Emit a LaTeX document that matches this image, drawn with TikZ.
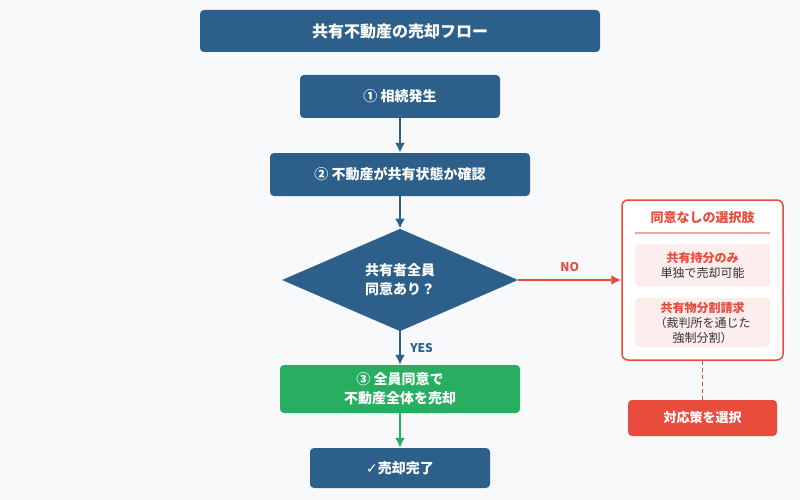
\documentclass[tikz,border=0pt]{standalone}
\usepackage{fontspec}
\setmainfont{Noto Sans CJK JP}
\newfontfamily\symfont{DejaVu Sans}
\usetikzlibrary{shapes.geometric,arrows.meta}
\definecolor{navy}{HTML}{2C5F8A}
\definecolor{okgreen}{HTML}{27AE60}
\definecolor{alert}{HTML}{E74C3C}
\definecolor{pinkbg}{HTML}{FDEDEC}
\definecolor{bgcol}{HTML}{F8F9FB}
\definecolor{txt}{HTML}{333333}
\tikzset{
  stage/.style={draw=none, fill=navy, rounded corners=4pt, text=white, font=\fontsize{14}{19}\selectfont\bfseries, align=center},
  flow/.style={-{Latex[length=10pt,width=10pt]}, line width=2pt, navy},
  opt/.style={fill=pinkbg, rounded corners=4pt, minimum width=135pt, align=center, font=\fontsize{12}{15}\selectfont, text=txt}
}
\begin{document}
\begin{tikzpicture}[x=1pt,y=-1pt]
    \fill[bgcol] (0,0) rectangle (800,500);
    \useasboundingbox (0,0) rectangle (800,500);

    \node[stage, minimum width=400pt, minimum height=42pt, font=\fontsize{16}{19}\selectfont\bfseries] (title) at (400, 31) {共有不動産の売却フロー};
    \node[stage, minimum width=200pt, minimum height=43pt] (s1) at (400, 96.5) {① 相続発生};
    \node[stage, minimum width=260pt, minimum height=43pt] (s2) at (400, 174.5) {② 不動産が共有状態か確認};
    \node[stage, diamond, rounded corners=0pt, minimum width=236pt, minimum height=102pt, inner sep=0pt] (q) at (400, 280) {共有者全員\\同意あり？};
    \node[stage, fill=okgreen, minimum width=240pt, minimum height=48pt] (s3) at (400, 389) {③ 全員同意で\\不動産全体を売却};
    \node[stage, minimum width=180pt, minimum height=40pt] (s4) at (400, 468) {{\symfont ✓}売却完了};

    \draw[flow] (s1) -- (s2);
    \draw[flow] (s2) -- (q);
    \draw[flow] (q) -- node[right=6pt, font=\fontsize{12}{14}\selectfont\bfseries] {YES} (s3);
    \draw[flow, okgreen] (s3) -- (s4);

    % right panel
    \node[draw=alert, line width=1.5pt, fill=white, rounded corners=6pt, minimum width=161pt, minimum height=160pt] (panel) at (702.5, 280) {};
    \node[text=alert, font=\fontsize{13}{15}\selectfont\bfseries] (ptitle) at (702.5, 218) {同意なしの選択肢};
    \draw[alert!50, line width=1.2pt] (635, 233) -- (770, 233);
    \node[opt, minimum height=42pt] (o1) at (702.5, 265) {\textcolor{alert}{\bfseries 共有持分のみ}\\単独で売却可能};
    \node[opt, minimum height=49pt] (o2) at (702.5, 322.5) {\textcolor{alert}{\bfseries 共有物分割請求}\\（裁判所を通じた\\強制分割）};
    \node[stage, fill=alert, minimum width=149pt, minimum height=36pt, font=\fontsize{13}{15}\selectfont\bfseries] (act) at (702.5, 418) {対応策を選択};

    \draw[flow, alert] (q.east) -- node[above=4pt, font=\fontsize{12}{14}\selectfont\bfseries] {NO} (panel.west);
    \draw[alert, line width=1.5pt, dash pattern=on 4pt off 3pt] (panel.south) -- (act.north);
\end{tikzpicture}
\end{document}
